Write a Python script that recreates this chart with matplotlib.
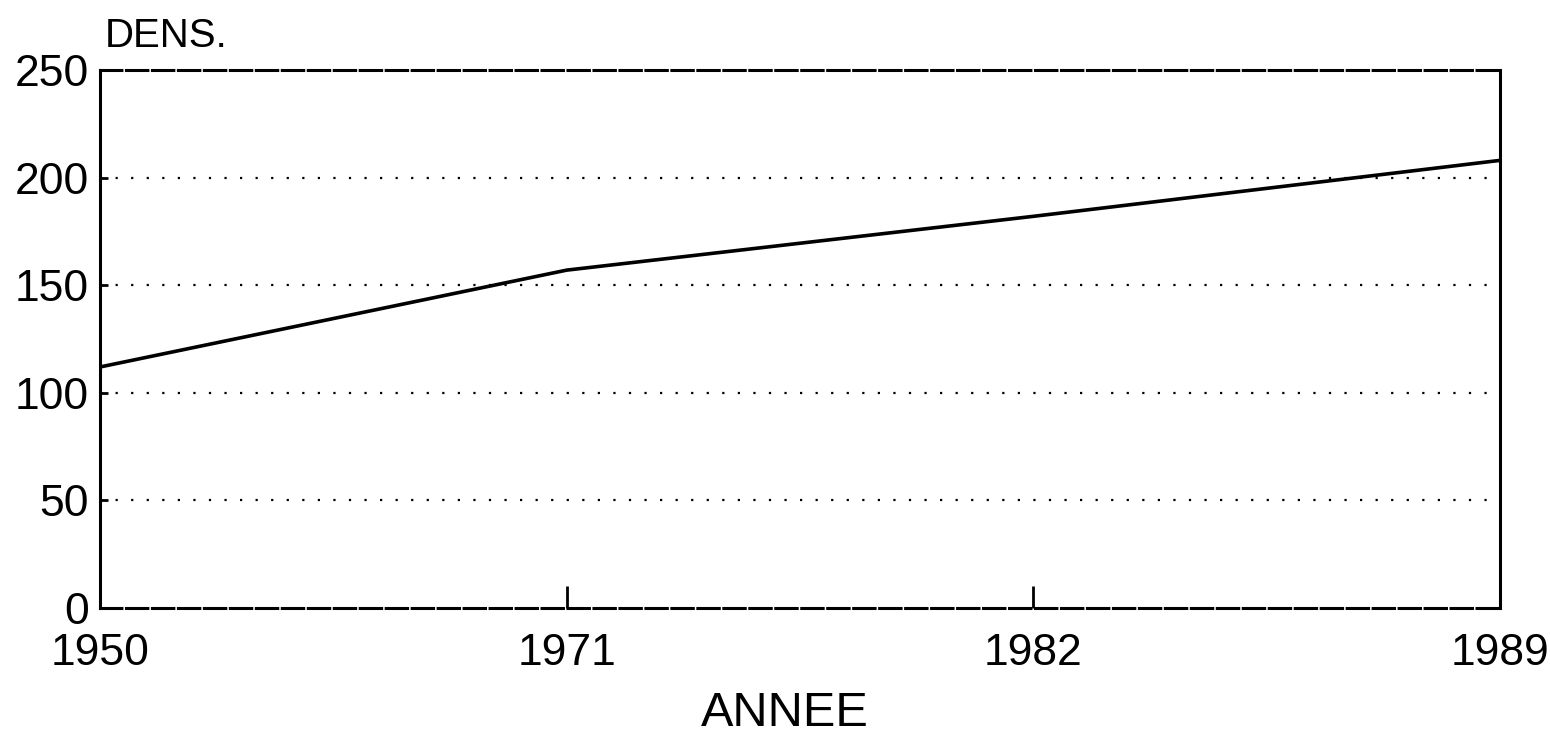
import matplotlib
matplotlib.use('Agg')
import matplotlib.pyplot as plt

# données
annees = ['1950', '1971', '1982', '1989']
densite = [112, 157, 182, 208]
y_ticks = [0, 50, 100, 150, 200, 250]

plt.rcParams['font.family'] = ['Liberation Sans', 'DejaVu Sans']

fig = plt.figure(figsize=(15.5, 7.36), dpi=100)
ax = fig.add_axes([100 / 1550, 128 / 736, 1400 / 1550, 538 / 736])

pos = list(range(len(annees)))
ax.plot(pos, densite, color='black', linewidth=2.6, solid_capstyle='butt')

ax.set_xlim(0, len(annees) - 1)
ax.set_ylim(0, 250)
ax.set_xticks(pos)
ax.set_xticklabels(annees)
ax.set_yticks(y_ticks)

# grille pointillée horizontale
for y in y_ticks[1:-1]:
    ax.axhline(y, color='black', linewidth=1.6, linestyle=(0, (1, 6)), zorder=1)

# cadre : haut et bas en tirets, côtés pleins
for side in ['left', 'right']:
    ax.spines[side].set_linewidth(2.2)
for side in ['top', 'bottom']:
    ax.spines[side].set_linewidth(2.2)
    ax.spines[side].set_linestyle((0, (7, 1.5)))

ax.tick_params(axis='x', direction='in', length=16, width=2, pad=18,
               labelsize=32, colors='black')
ax.tick_params(axis='y', direction='in', length=6, width=2, pad=8,
               labelsize=32, colors='black')

fig.text(105 / 1550, 1 - 47 / 736, 'DENS.', fontsize=29, ha='left', va='baseline')
fig.text(785 / 1550, 1 - 726 / 736, 'ANNEE', fontsize=35, ha='center', va='baseline')

fig.savefig('out.png', dpi=100, facecolor='white')
